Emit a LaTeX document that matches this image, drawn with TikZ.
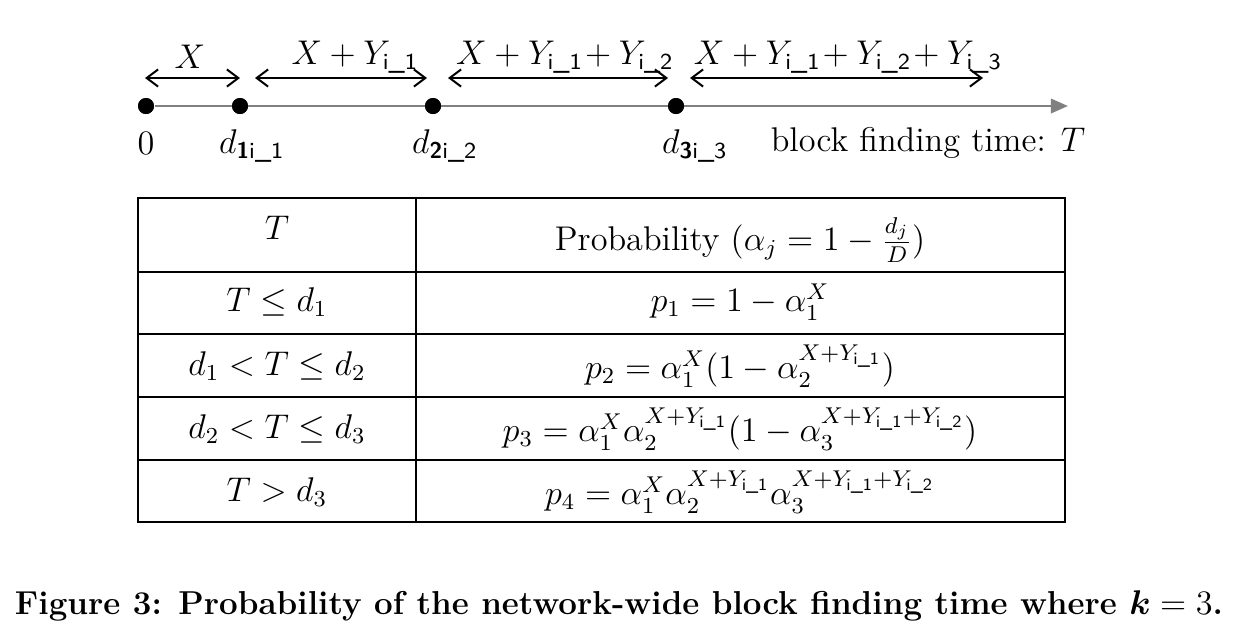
\documentclass[tikz,border=0pt]{standalone}
\usepackage{amsmath,bm}
\usetikzlibrary{arrows.meta}
\newcommand{\ssub}[1]{\textsf{#1}}
\begin{document}
\begin{tikzpicture}[x=0.35pt,y=-0.35pt,
  dot/.style={circle,fill,inner sep=0pt,minimum size=5.6pt},
  span/.style={{Straight Barb[length=4pt,width=6pt]}-{Straight Barb[length=4pt,width=6pt]},line width=.7pt},
  cell/.style={font=\large}]
\useasboundingbox (0,0) rectangle (1234,640);
% time line
\node[dot] (t0) at (146,106) {};\node[dot] (t1) at (240,106) {};\node[dot] (t2) at (433,106) {};\node[dot] (t3) at (676,106) {};
\coordinate (tend) at (1068,106);
\draw[gray,line width=1pt,-{Triangle[length=6pt,width=5pt]}] (t0)--(tend);
\node[dot] at (t0) {};\node[dot] at (t1) {};\node[dot] at (t2) {};\node[dot] at (t3) {};
\node[cell] (l0) at (146,143) {$0$};
\node[cell] (l1) at (252,146) {$d_{\ssub{\textbf{1}i\_1}}$};
\node[cell] (l2) at (445,146) {$d_{\ssub{\textbf{2}i\_2}}$};
\node[cell] (l3) at (695,146) {$d_{\ssub{\textbf{3}i\_3}}$};
\node[cell] (lT) at (928,143) {block finding time: $T$};
% spans
\coordinate (a0) at (145,78);\coordinate (a1) at (240,78);\coordinate (b0) at (255,78);\coordinate (b1) at (427,78);
\coordinate (c0) at (448,78);\coordinate (c1) at (668,78);\coordinate (e0) at (690,78);\coordinate (e1) at (983,78);
\draw[span] (a0)--(a1);\draw[span] (b0)--(b1);\draw[span] (c0)--(c1);\draw[span] (e0)--(e1);
\node[cell] (sa) at (190,57) {$X$};
\node[cell] (sb) at (355,57) {$X+Y_{\ssub{i\_1}}$};
\node[cell] (sc) at (565,57) {$X+Y_{\ssub{i\_1}}\!+Y_{\ssub{i\_2}}$};
\node[cell] (se) at (848,57) {$X+Y_{\ssub{i\_1}}\!+Y_{\ssub{i\_2}}\!+Y_{\ssub{i\_3}}$};
% table
\draw[line width=.7pt] (138,198) rectangle (1065,522);
\draw[line width=.7pt] (416,198)--(416,522);
\foreach \y in {272,334,397,460} \draw[line width=.7pt] (138,\y)--(1065,\y);
\node[cell] (h1) at (277,228) {$T$};
\node[cell] (h2) at (740,240) {Probability ($\alpha_j=1-\frac{d_j}{D}$)};
\node[cell] (r1) at (277,302) {$T\le d_1$};\node[cell] (p1) at (740,302) {$p_1=1-\alpha_1^X$};
\node[cell] (r2) at (277,366) {$d_1<T\le d_2$};\node[cell] (p2) at (740,366) {$p_2=\alpha_1^X(1-\alpha_2^{X+Y_{\ssub{i\_1}}})$};
\node[cell] (r3) at (277,429) {$d_2<T\le d_3$};\node[cell] (p3) at (740,429) {$p_3=\alpha_1^X\alpha_2^{X+Y_{\ssub{i\_1}}}(1-\alpha_3^{X+Y_{\ssub{i\_1}}+Y_{\ssub{i\_2}}})$};
\node[cell] (r4) at (277,492) {$T>d_3$};\node[cell] (p4) at (740,492) {$p_4=\alpha_1^X\alpha_2^{X+Y_{\ssub{i\_1}}}\alpha_3^{X+Y_{\ssub{i\_1}}+Y_{\ssub{i\_2}}}$};
% caption
\node[font=\fontsize{11.6}{14}\selectfont\bfseries] (cap) at (619,606) {Figure 3: Probability of the network-wide block finding time where $\bm{k}=3$.};
\end{tikzpicture}
\end{document}
